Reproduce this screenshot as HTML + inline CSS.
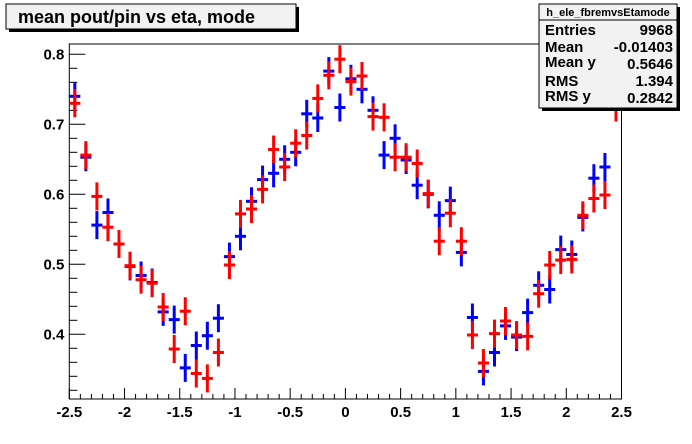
<!DOCTYPE html>
<html><head><meta charset="utf-8">
<style>
html,body{margin:0;padding:0;background:#fff;}
svg{display:block;font-family:"Liberation Sans",Arial,sans-serif;}
</style></head>
<body>
<svg id="chart" width="692" height="444" viewBox="0 0 692 444" xmlns="http://www.w3.org/2000/svg">
<rect x="0" y="0" width="692" height="444" fill="#fff"/>
<g id="frame-layer"></g>
<g id="marks"></g>
<g>
<rect x="9" y="7" width="290" height="25" fill="#000"/>
<rect x="6" y="4" width="290" height="25" fill="#f2f2f2" stroke="#000" stroke-width="1"/>
<text x="18" y="23" font-size="18" font-weight="bold" fill="#000">mean pout/pin vs eta, mode</text>
</g>
<g>
<rect x="542" y="7" width="138" height="104" fill="#000"/>
<rect x="539" y="4" width="138" height="104" fill="#f2f2f2" stroke="#000" stroke-width="1"/>
<line x1="539" y1="20" x2="677" y2="20" stroke="#000"/>
<text x="608" y="16" font-size="11" text-anchor="middle" font-weight="bold">h_ele_fbremvsEtamode</text>
<g font-size="15" font-weight="bold">
<text x="545" y="35">Entries</text>
<text x="673" y="35" text-anchor="end">9968</text>
<text x="545" y="52">Mean</text>
<text x="673" y="52" text-anchor="end">-0.01403</text>
<text x="545" y="67">Mean y</text>
<text x="673" y="69" text-anchor="end">0.5646</text>
<text x="545" y="86">RMS</text>
<text x="673" y="86" text-anchor="end">1.394</text>
<text x="545" y="101">RMS y</text>
<text x="673" y="103" text-anchor="end">0.2842</text>
</g>
</g>
</svg>
<script>
const etaBins = [-2.45,-2.35,-2.25,-2.15,-2.05,-1.95,-1.85,-1.75,-1.65,-1.55,-1.45,-1.35,-1.25,-1.15,-1.05,-0.95,-0.85,-0.75,-0.65,-0.55,-0.45,-0.35,-0.25,-0.15,-0.05,0.05,0.15,0.25,0.35,0.45,0.55,0.65,0.75,0.85,0.95,1.05,1.15,1.25,1.35,1.45,1.55,1.65,1.75,1.85,1.95,2.05,2.15,2.25,2.35,2.45];
const blueValues = [0.740,0.653,0.556,0.574,0.529,0.497,0.484,0.474,0.432,0.421,0.352,0.384,0.398,0.423,0.511,0.540,0.590,0.621,0.630,0.650,0.660,0.715,0.709,0.776,0.724,0.765,0.750,0.720,0.656,0.680,0.649,0.613,0.600,0.570,0.591,0.517,0.424,0.347,0.374,0.412,0.396,0.431,0.470,0.464,0.521,0.514,0.567,0.623,0.639,null];
const redValues = [0.730,0.656,0.597,0.553,0.529,0.498,0.478,0.473,0.439,0.379,0.433,0.344,0.337,0.374,0.499,0.572,0.579,0.607,0.664,0.639,0.673,0.684,0.737,0.770,0.793,0.761,0.769,0.711,0.710,0.653,0.653,0.644,0.601,0.533,0.573,0.533,0.399,0.359,0.401,0.419,0.399,0.397,0.458,0.499,0.506,0.507,0.570,0.594,0.599,0.724];
const errValue = 0.02;
const xTickLabels = ["-2.5","-2","-1.5","-1","-0.5","0","0.5","1","1.5","2","2.5"];
const yTickLabels = ["0.4","0.5","0.6","0.7","0.8"];

const NS="http://www.w3.org/2000/svg";
const X0=69.3,X1=621.5,Y0=399,Y1=44;
const xMin=-2.5,xMax=2.5;
function xs(v){return X0+(v-xMin)/(xMax-xMin)*(X1-X0);}
function ys(v){return 54.3+(0.8-v)*700;}
function mk(tag,attrs,parent){const e=document.createElementNS(NS,tag);for(const k in attrs)e.setAttribute(k,attrs[k]);parent.appendChild(e);return e;}

const fl=document.getElementById('frame-layer');
const fr=mk('rect',{x:X0,y:Y1,width:X1-X0,height:Y0-Y1,fill:'none',stroke:'#000','stroke-width':1},fl);


// x ticks
for(let i=0;i<=50;i++){
  const v=xMin+i*0.1;const x=xs(v);const major=(i%5===0);
  const t=mk('line',{x1:x,x2:x,y1:Y0,y2:Y0-(major?11:5),stroke:'#000'},fl);
  
  
}
xTickLabels.forEach(s=>{
  const v=parseFloat(s);
  const t=mk('text',{x:xs(v),y:417,'font-size':15,'font-weight':'bold','text-anchor':'middle'},fl);
  t.textContent=s;
  
  
});
// y ticks
for(let v=0.32;v<=0.8151;v+=0.02){
  const y=ys(v);const major=Math.abs(Math.round(v*10)-v*10)<1e-6;
  const t=mk('line',{x1:X0,x2:X0+(major?16:8),y1:y,y2:y,stroke:'#000'},fl);
  
  
}
yTickLabels.forEach(s=>{
  const v=parseFloat(s);
  const t=mk('text',{x:X0-5,y:ys(v)+5,'font-size':15,'font-weight':'bold','text-anchor':'end'},fl);
  t.textContent=s;
  
  
});
// marks
const mg=document.getElementById('marks');
function drawSeries(vals,color,name){
  const g=mk('g',{},mg);
  
  
  vals.forEach((v,i)=>{
    if(v===null)return;
    const x=xs(etaBins[i]),y=ys(v);
    const p=mk('g',{},g);
    
    
    mk('line',{x1:xs(etaBins[i]-0.05),x2:xs(etaBins[i]+0.05),y1:y,y2:y,stroke:color,'stroke-width':3},p);
    mk('line',{x1:x,x2:x,y1:ys(v+errValue),y2:ys(v-errValue),stroke:color,'stroke-width':3},p);
  });
}
drawSeries(blueValues,'#0000ff','blue-series');
drawSeries(redValues,'#ff0000','red-series');
</script>
</body></html>
